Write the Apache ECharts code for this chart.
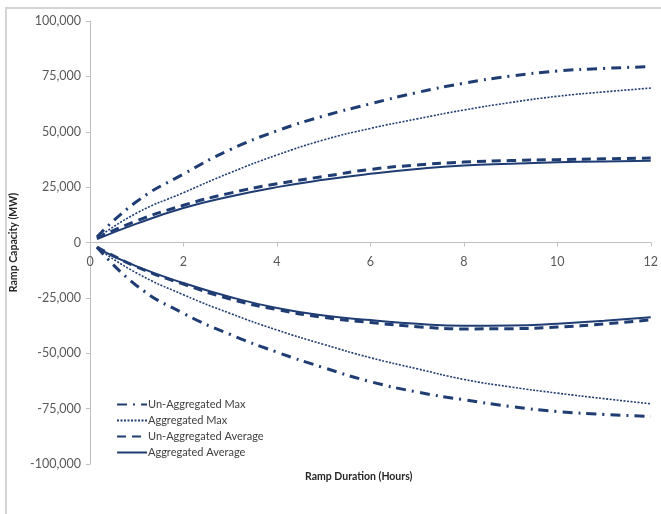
<!DOCTYPE html>
<html>
<head>
<meta charset="utf-8">
<script src="https://cdn.jsdelivr.net/npm/echarts@6/dist/echarts.min.js"></script>
<style>
html,body{margin:0;padding:0;background:#fff;}
#chart{width:661px;height:514px;}
</style>
</head>
<body>
<div id="chart"></div>
<script>
// Ramp duration (hours)
const hours = [0.15, 1, 2, 3, 4, 5, 6, 7, 8, 9, 10, 11, 12];
const yTicks = [-100000, -75000, -50000, -25000, 0, 25000, 50000, 75000, 100000];
const xTicks = [0, 2, 4, 6, 8, 10, 12];

const seriesNames = ['Un-Aggregated Max', 'Aggregated Max', 'Un-Aggregated Average', 'Aggregated Average'];

// Upward ramp capacity (MW)
const unAggMaxUp = [2500, 18500, 30900, 41900, 50400, 57100, 62600, 67700, 71900, 75100, 77400, 78600, 79400];
const aggMaxUp   = [2000, 13300, 22500, 31500, 39500, 46300, 51500, 55800, 59800, 63200, 66000, 68000, 69700];
const unAggAvgUp = [2000, 9800, 16800, 22300, 26500, 29800, 33000, 35000, 36300, 37000, 37400, 37800, 38100];
const aggAvgUp   = [1500, 8500, 15600, 20800, 25000, 28300, 31000, 33200, 34800, 35600, 36200, 36600, 36900];

// Downward ramp capacity (MW)
const unAggMaxDown = [-2000, -19500, -32000, -41500, -49500, -56500, -62800, -67500, -71000, -74000, -76300, -77600, -78500];
const aggMaxDown   = [-2500, -13800, -23600, -32000, -39500, -46000, -52000, -57000, -61800, -65200, -68000, -70500, -72800];
const unAggAvgDown = [-2000, -11000, -18800, -25500, -30300, -33800, -36100, -38000, -39000, -38900, -38200, -36800, -34900];
const aggAvgDown   = [-2500, -10800, -18300, -24600, -29600, -33000, -35000, -36700, -37600, -37500, -36700, -35300, -33700];

const color = '#1F3C73';
const styles = [
  {type: [10, 6, 2, 6], width: 3},
  {type: [2, 1.5], width: 1.6},
  {type: [9, 6], width: 3},
  {type: 'solid', width: 2}
];
const groups = [
  [unAggMaxUp, unAggMaxDown],
  [aggMaxUp, aggMaxDown],
  [unAggAvgUp, unAggAvgDown],
  [aggAvgUp, aggAvgDown]
];

const series = [];
groups.forEach((g, i) => {
  g.forEach(arr => {
    series.push({
      name: seriesNames[i],
      type: 'line',
      smooth: true,
      symbol: 'none',
      data: hours.map((h, k) => [h, arr[k]]),
      lineStyle: {color: color, type: styles[i].type, width: styles[i].width},
      itemStyle: {color: color},
      z: 4 - i
    });
  });
});

const font = 'Lato, "Open Sans", sans-serif';
const gridTop = 21, gridBottom = 50, chartH = 514;
const gridH = chartH - gridTop - gridBottom;
const chart = echarts.init(document.getElementById('chart'));
chart.setOption({
  animation: false,
  backgroundColor: '#fff',
  grid: {left: 90, right: 8, top: gridTop, bottom: gridBottom},
  xAxis: {
    type: 'value', min: 0, max: 12, interval: 2,
    offset: -gridH / 2,
    axisLine: {onZero: false, lineStyle: {color: '#bfbfbf', width: 1}},
    axisTick: {show: true, length: 4, lineStyle: {color: '#bfbfbf'}},
    axisLabel: {color: '#595959', fontSize: 12.5, fontFamily: font, margin: 13,
      formatter: v => xTicks.includes(v) ? String(v) : ''},
    splitLine: {show: false}
  },
  yAxis: {
    type: 'value', min: -100000, max: 100000, interval: 25000,
    name: 'Ramp Capacity (MW)', nameLocation: 'middle', nameGap: 70,
    nameTextStyle: {color: '#262626', fontSize: 10.5, fontWeight: 'bold', fontFamily: font},
    axisLine: {show: true, onZero: false, lineStyle: {color: '#bfbfbf', width: 1}},
    axisTick: {show: true, length: 4, lineStyle: {color: '#bfbfbf'}},
    axisLabel: {color: '#595959', fontSize: 12.5, fontFamily: font, margin: 9,
      formatter: v => yTicks.includes(v) ? v.toLocaleString('en-US') : ''},
    splitLine: {show: false}
  },
  legend: {
    data: seriesNames,
    orient: 'vertical',
    left: 111, top: 394,
    itemWidth: 30, itemHeight: 10, itemGap: 5,
    itemStyle: {opacity: 0},
    textStyle: {color: '#404040', fontSize: 11, fontFamily: font, padding: [0, 0, 0, -4]}
  },
  graphic: [
    {type: 'rect', shape: {x: 6, y: 8, width: 670, height: 530}, style: {fill: null, stroke: '#d4d4d4', lineWidth: 2}, silent: true, z: -10},
    {type: 'text', left: 305, top: 471, style: {text: 'Ramp Duration (Hours)', fill: '#262626', font: 'bold 10.5px ' + font}}
  ],
  series: series
});
</script>
</body>
</html>
